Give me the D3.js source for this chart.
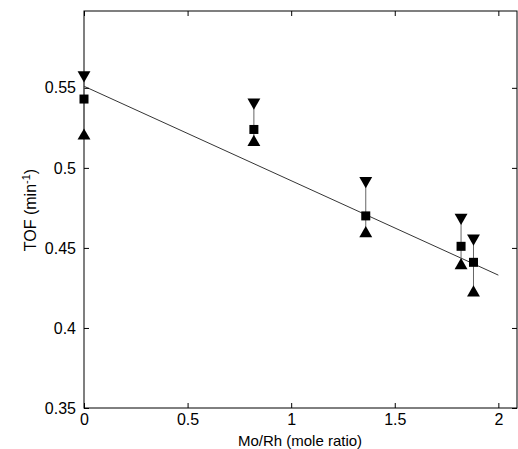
<!DOCTYPE html>
<html><head><meta charset="utf-8">
<script src="https://cdn.jsdelivr.net/npm/d3@7"></script>
<style>body{margin:0;background:#fff}text{font-family:Helvetica,"Liberation Sans",Arial,sans-serif}</style>
</head><body><div id="vis"></div>
<script>
const ratio=[0,0.82,1.36,1.82,1.88];
const tofMean=[0.543,0.524,0.470,0.451,0.441];
const tofHigh=[0.558,0.541,0.492,0.469,0.456];
const tofLow=[0.520,0.516,0.459,0.439,0.422];
const fitX=[0,2];
const fitY=[0.551,0.433];
const xTicks=[0,0.5,1,1.5,2];
const yTicks=[0.35,0.4,0.45,0.5,0.55];

const width=518,height=449;
const svg=d3.select("#vis").append("svg").attr("width",width).attr("height",height);
const x=d3.scaleLinear().domain([0,2.09]).range([84,517]);
const y=d3.scaleLinear().domain([0.35,0.598]).range([408,11]);

svg.append("rect").attr("x",84).attr("y",11).attr("width",433).attr("height",397)
  .attr("fill","none").attr("stroke","#000").attr("stroke-width",1);

const xAxis=d3.axisBottom(x).tickValues(xTicks).tickSize(-5).tickPadding(6).tickFormat(d3.format("~g"));
const gx=svg.append("g").attr("transform","translate(0,408)").call(xAxis);
const gxt=svg.append("g").attr("transform","translate(0,11)").call(d3.axisTop(x).tickValues(xTicks).tickSize(-5).tickFormat(""));
const yAxis=d3.axisLeft(y).tickValues(yTicks).tickSize(-5).tickPadding(8).tickFormat(d3.format("~g"));
const gy=svg.append("g").attr("transform","translate(84,0)").call(yAxis);
const gyr=svg.append("g").attr("transform","translate(517,0)").call(d3.axisRight(y).tickValues(yTicks).tickSize(-5).tickFormat(""));
[gx,gxt,gy,gyr].forEach(g=>{g.select(".domain").remove();g.selectAll("text").attr("font-size",16).attr("fill","#000");});

svg.append("line").attr("x1",x(fitX[0])).attr("y1",y(fitY[0])).attr("x2",x(fitX[1])).attr("y2",y(fitY[1]))
  .attr("stroke","#000").attr("stroke-width",0.8);

ratio.forEach((r,i)=>{
  svg.append("line").attr("x1",x(r)).attr("x2",x(r)).attr("y1",y(tofHigh[i])).attr("y2",y(tofLow[i]))
    .attr("stroke","#666").attr("stroke-width",1);
});
const tri=d3.symbol().type(d3.symbolTriangle).size(72);
svg.selectAll(".lo").data(ratio).enter().append("path")
  .attr("d",tri).attr("transform",(d,i)=>`translate(${x(d)},${y(tofLow[i])})`).attr("fill","#000");
svg.selectAll(".hi").data(ratio).enter().append("path")
  .attr("d",tri).attr("transform",(d,i)=>`translate(${x(d)},${y(tofHigh[i])}) rotate(180)`).attr("fill","#000");
svg.selectAll(".sq").data(ratio).enter().append("rect")
  .attr("x",d=>x(d)-4.5).attr("y",(d,i)=>y(tofMean[i])-4.5).attr("width",9).attr("height",9).attr("fill","#000");

svg.append("text").attr("x",300).attr("y",446).attr("text-anchor","middle").attr("font-size",15).text("Mo/Rh (mole ratio)");
const yl=svg.append("text").attr("transform","translate(36,210) rotate(-90)").attr("text-anchor","middle").attr("font-size",16);
yl.append("tspan").text("TOF (min");
yl.append("tspan").attr("dy",-6).attr("font-size",11).text("-1");
yl.append("tspan").attr("dy",6).text(")");
</script></body></html>
